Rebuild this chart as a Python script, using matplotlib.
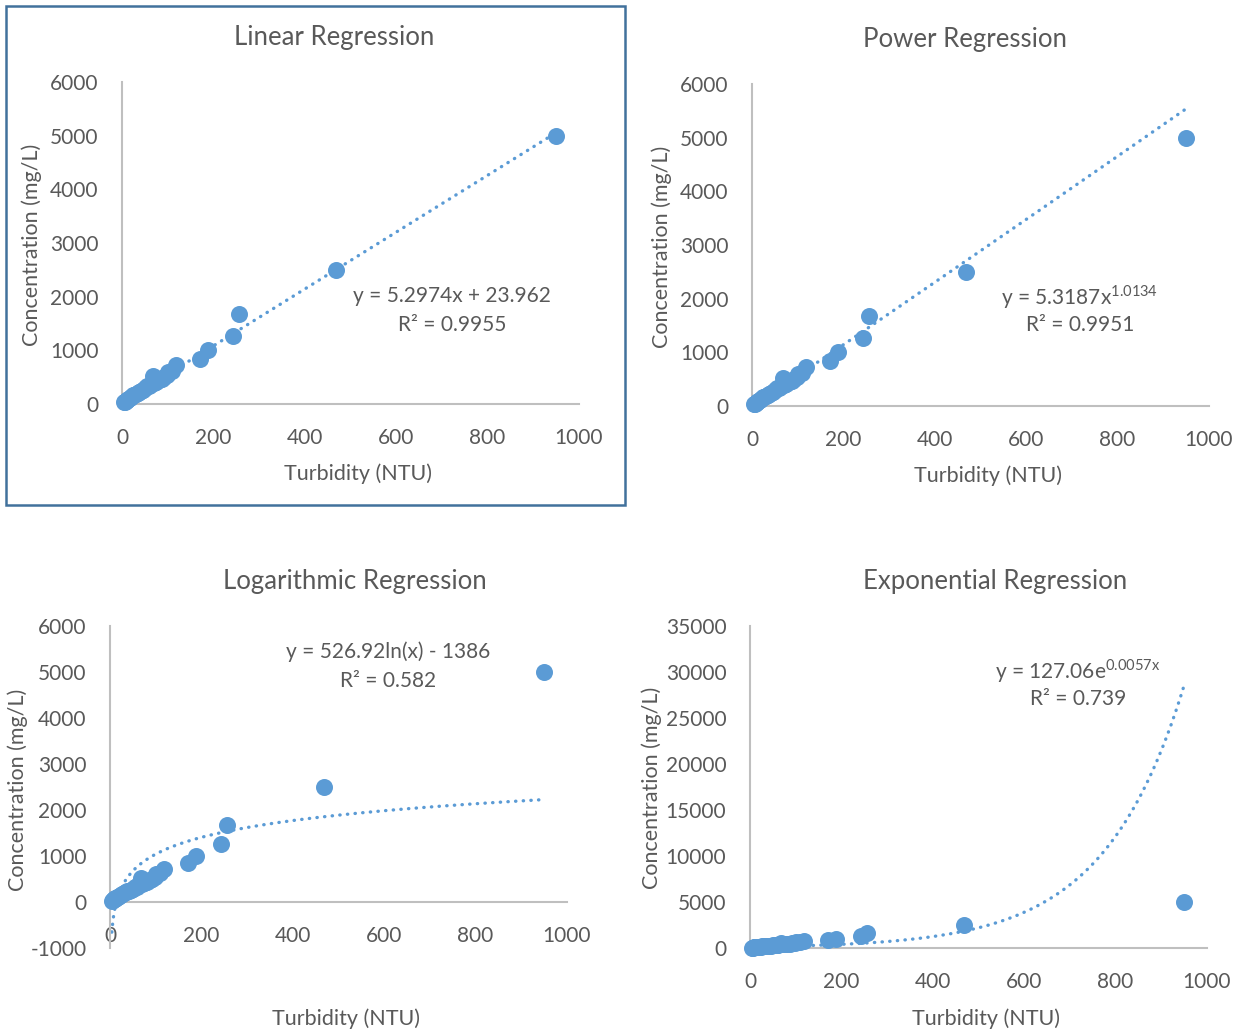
import matplotlib
matplotlib.use('Agg')
import matplotlib.pyplot as plt
import numpy as np
from matplotlib.patches import Rectangle

plt.rcParams['font.family'] = ['Lato', 'DejaVu Sans']
plt.rcParams['mathtext.fontset'] = 'custom'
plt.rcParams['mathtext.rm'] = 'Lato'
plt.rcParams['axes.unicode_minus'] = False

# turbidity vs suspended sediment concentration samples
turbidity = [4, 6, 8, 10, 12, 14, 17, 20, 23, 27, 30, 34, 38, 42, 46, 50, 54,
             58, 62, 67, 70, 75, 80, 87, 92, 98, 101, 110, 118, 170, 188, 243,
             255, 468, 950]
concentration = [30, 45, 55, 70, 80, 95, 110, 130, 160, 175, 190, 210, 230, 250,
                 270, 290, 330, 330, 360, 520, 390, 410, 440, 470, 500, 540, 600,
                 620, 720, 840, 1000, 1260, 1680, 2500, 5000]

# fitted trendline coefficients
lin_a, lin_b, lin_r2 = 5.2974, 23.962, 0.9955
pow_a, pow_b, pow_r2 = 5.3187, 1.0134, 0.9951
log_a, log_b, log_r2 = 526.92, -1386, 0.582
exp_a, exp_b, exp_r2 = 127.06, 0.0057, 0.739

x_ticks = [0, 200, 400, 600, 800, 1000]

BLUE = '#5B9BD5'
GRAY = '#595959'
AXIS = '#BFBFBF'
W, H = 1242, 1034
TITLE_FS, LABEL_FS, TICK_FS, EQ_FS = 18.5, 15.5, 15, 15

fig = plt.figure(figsize=(W / 100, H / 100), dpi=100)


def px_axes(left, right, top, bottom):
    return fig.add_axes([left / W, 1 - bottom / H, (right - left) / W, (bottom - top) / H])


def px_text(x, y, s, **kw):
    fig.text(x / W, 1 - y / H, s, ha='center', va='center', color=GRAY, **kw)


def style(ax, ylim, yticks):
    ax.set_xlim(0, 1000)
    ax.set_ylim(*ylim)
    ax.set_xticks(x_ticks)
    ax.set_yticks(yticks)
    for s in ['top', 'right']:
        ax.spines[s].set_visible(False)
    for s in ['left', 'bottom']:
        ax.spines[s].set_color(AXIS)
        ax.spines[s].set_linewidth(1.5)
    ax.tick_params(length=0, labelsize=TICK_FS, labelcolor=GRAY)
    ax.tick_params(axis='y', pad=17)
    ax.tick_params(axis='x', pad=17)
    ax.patch.set_alpha(0)


def draw(ax, fx, fy):
    ax.plot(fx, fy, color=BLUE, lw=2.4, linestyle=(0, (0.1, 2.2)),
            dash_capstyle='round', zorder=2, clip_on=True)
    ax.scatter(turbidity, concentration, s=150, color=BLUE, zorder=3,
               linewidths=0, clip_on=False)


xs = np.linspace(min(turbidity), max(turbidity), 400)

# Linear
ax1 = px_axes(122, 579, 82, 404)
style(ax1, (0, 6000), range(0, 6001, 1000))
draw(ax1, xs, lin_a * xs + lin_b)
px_text(334, 37, 'Linear Regression', fontsize=TITLE_FS)
px_text(358, 474, 'Turbidity (NTU)', fontsize=LABEL_FS)
px_text(32, 245, 'Concentration (mg/L)', fontsize=LABEL_FS, rotation=90)
px_text(452, 296, f'y = {lin_a}x + {lin_b}', fontsize=EQ_FS)
px_text(452, 325, f'R² = {lin_r2}', fontsize=EQ_FS)
fig.patches.append(Rectangle((6 / W, 1 - 505 / H), 619 / W, 499 / H,
                             transform=fig.transFigure, fill=False,
                             edgecolor='#41719C', lw=1.8))

# Power
ax2 = px_axes(752, 1209, 84, 406)
style(ax2, (0, 6000), range(0, 6001, 1000))
draw(ax2, xs, pow_a * xs ** pow_b)
px_text(965, 39, 'Power Regression', fontsize=TITLE_FS)
px_text(988, 476, 'Turbidity (NTU)', fontsize=LABEL_FS)
px_text(662, 247, 'Concentration (mg/L)', fontsize=LABEL_FS, rotation=90)
px_text(1080, 297, r'y = 5.3187x$^{\mathregular{1.0134}}$', fontsize=EQ_FS)
px_text(1080, 325, f'R² = {pow_r2}', fontsize=EQ_FS)

# Logarithmic
ax3 = px_axes(110, 567, 626, 948)
style(ax3, (-1000, 6000), range(-1000, 6001, 1000))
ax3.spines['bottom'].set_position(('data', 0))
draw(ax3, xs, log_a * np.log(xs) + log_b)
px_text(355, 581, 'Logarithmic Regression', fontsize=TITLE_FS)
px_text(346, 1019, 'Turbidity (NTU)', fontsize=LABEL_FS)
px_text(18, 790, 'Concentration (mg/L)', fontsize=LABEL_FS, rotation=90)
px_text(388, 652, f'y = {log_a}ln(x) - {abs(log_b)}', fontsize=EQ_FS)
px_text(388, 681, f'R² = {log_r2}', fontsize=EQ_FS)

# Exponential
ax4 = px_axes(750, 1207, 626, 948)
style(ax4, (0, 35000), range(0, 35001, 5000))
draw(ax4, xs, exp_a * np.exp(exp_b * xs))
px_text(995, 581, 'Exponential Regression', fontsize=TITLE_FS)
px_text(986, 1019, 'Turbidity (NTU)', fontsize=LABEL_FS)
px_text(652, 788, 'Concentration (mg/L)', fontsize=LABEL_FS, rotation=90)
px_text(1078, 671, r'y = 127.06e$^{\mathregular{0.0057x}}$', fontsize=EQ_FS)
px_text(1078, 699, f'R² = {exp_r2}', fontsize=EQ_FS)

fig.savefig('out.png', dpi=100)
